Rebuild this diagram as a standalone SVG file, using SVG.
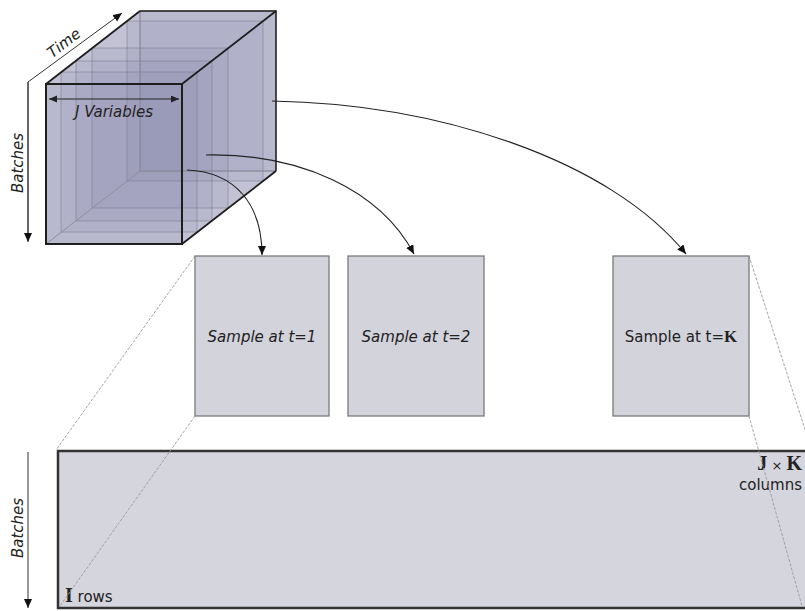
<svg xmlns="http://www.w3.org/2000/svg" width="805" height="611" viewBox="0 0 805 611">
<style>
  .hull { fill: #c2c2d4; stroke: none; }
  .slice { fill: #7e7ea6; fill-opacity: 0.12; stroke: #6a6a7c; stroke-width: 0.8; stroke-opacity: 0.55; }
  .edge { stroke: #1e1e1e; stroke-width: 1.8; fill: none; }
  .hid { stroke: #8a8a98; stroke-width: 0.9; fill: none; }
  .axis { stroke: #333; stroke-width: 1; fill: none; }
  .conn { stroke: #222; stroke-width: 1.1; fill: none; marker-end: url(#ah); }
  .proj { stroke: #9a9a9a; stroke-width: 0.9; stroke-dasharray: 3 1.5; fill: none; }
  .box { fill: #d3d3dc; stroke: #7a7a7a; stroke-width: 1.3; }
  .lbl { font-family: "DejaVu Sans", "Liberation Sans", sans-serif; font-size: 15px; fill: #222; }
  .it { font-style: italic; }
  .ser { font-family: "Liberation Serif", "DejaVu Serif", serif; font-weight: bold; }
</style>
<defs>
  <marker id="ah" markerUnits="userSpaceOnUse" markerWidth="10" markerHeight="10" refX="9" refY="4" orient="auto">
    <path d="M0,0 L9,4 L0,8 Z" fill="#111"/>
  </marker>
  <marker id="ahs" markerUnits="userSpaceOnUse" markerWidth="10" markerHeight="10" refX="8" refY="3.5" orient="auto-start-reverse">
    <path d="M0,0 L8,3.5 L0,7 Z" fill="#222"/>
  </marker>
</defs>

<!-- Projection lines -->
<g id="projection">
  <line class="proj" x1="195" y1="256" x2="56" y2="450"/>
  <line class="proj" x1="749" y1="256" x2="812" y2="451"/>
</g>

<!-- Cube -->
<g id="cube">
  <polygon class="hull" points="46,84 140,11 276,11 276,171 182,244 46,244"/>
  <rect class="slice" x="140" y="11" width="136" height="160"/>
  <rect class="slice" x="127" y="21" width="136" height="160"/>
  <rect class="slice" x="92" y="48" width="136" height="160"/>
  <rect class="slice" x="76" y="61" width="136" height="160"/>
  <rect class="slice" x="61" y="72" width="136" height="160"/>
  <rect class="slice" x="46" y="84" width="136" height="160"/>
  <polyline class="hid" points="140,11 140,171 276,171"/>
  <line class="hid" x1="46" y1="244" x2="140" y2="171"/>
  <polyline class="edge" points="140,11 276,11 276,171" style="stroke-width:1.5"/>
  <line class="edge" x1="46" y1="84" x2="140" y2="11"/>
  <line class="edge" x1="182" y1="84" x2="276" y2="11"/>
  <line class="edge" x1="182" y1="244" x2="276" y2="171"/>
  <rect class="edge" x="46" y="84" width="136" height="160" style="stroke-width:2"/>
  <line x1="49" y1="99" x2="179" y2="99" stroke="#222" stroke-width="1" marker-start="url(#ahs)" marker-end="url(#ahs)"/>
  <text class="lbl it" x="114" y="117" text-anchor="middle">J Variables</text>
</g>

<!-- Axes -->
<g id="axes">
  <polyline class="axis" points="28,241 28,82 122,13" style="marker-end:url(#ah)"/>
  <line class="axis" x1="28" y1="82" x2="28" y2="242" style="marker-end:url(#ah)"/>
  <text class="lbl it" transform="translate(67,47) rotate(-37.8)" text-anchor="middle">Time</text>
  <text class="lbl it" transform="translate(23,163) rotate(-90)" text-anchor="middle">Batches</text>
  <line class="axis" x1="28" y1="452" x2="28" y2="608" style="marker-end:url(#ah)"/>
  <text class="lbl it" transform="translate(23,528) rotate(-90)" text-anchor="middle">Batches</text>
</g>

<!-- Sample boxes -->
<g id="sample1">
  <rect class="box" x="195" y="256" width="134" height="160"/>
  <text class="lbl it" x="262" y="342" text-anchor="middle">Sample at t=1</text>
</g>
<g id="sample2">
  <rect class="box" x="348" y="256" width="136" height="160"/>
  <text class="lbl it" x="416" y="342" text-anchor="middle">Sample at t=2</text>
</g>
<g id="sampleK">
  <rect class="box" x="613" y="256" width="136" height="160"/>
  <text class="lbl" x="681" y="342" text-anchor="middle">Sample at t=<tspan class="ser" font-size="17">K</tspan></text>
</g>

<!-- Unfolded matrix -->
<g id="matrix">
  <rect x="58" y="451" width="770" height="157" fill="#d5d5dd" stroke="#333" stroke-width="2.5"/>
  <text class="lbl" x="802" y="470" text-anchor="end"><tspan class="ser" font-size="20">J</tspan><tspan font-size="13"> × </tspan><tspan class="ser" font-size="20">K</tspan></text>
  <text class="lbl" x="802" y="490" text-anchor="end">columns</text>
  <text class="lbl" x="65" y="602"><tspan class="ser" font-size="20" font-weight="normal">I</tspan> rows</text>
</g>

<!-- Projection lines over matrix -->
<g id="projection2">
  <line class="proj" x1="195" y1="416" x2="60" y2="606"/>
  <line class="proj" x1="749" y1="416" x2="802" y2="606"/>
</g>

<!-- Connectors -->
<g id="connectors">
  <path class="conn" d="M187,170 C236,172 262,205 262,255"/>
  <path class="conn" d="M206,155 C300,153 380,190 414,254"/>
  <path class="conn" d="M272,101 C440,104 610,160 686,254"/>
</g>
</svg>
